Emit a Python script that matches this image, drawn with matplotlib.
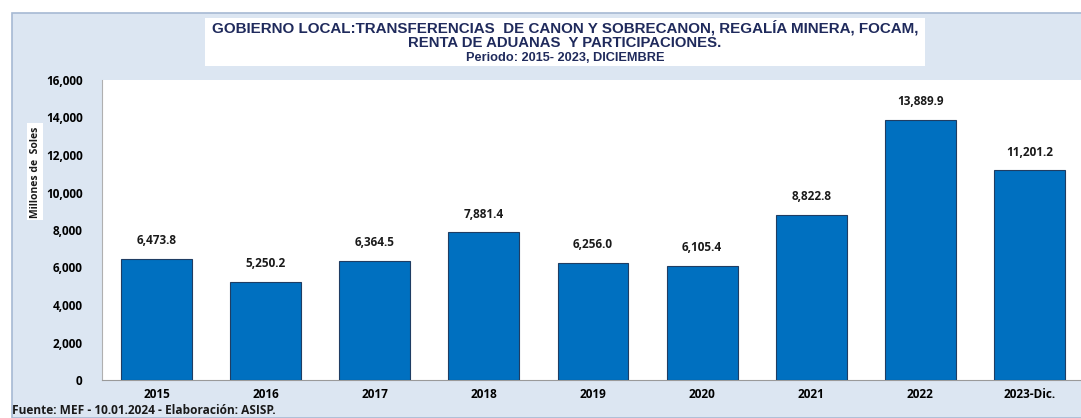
import matplotlib.pyplot as plt
from matplotlib.patches import Rectangle
import numpy as np

years = ['2015', '2016', '2017', '2018', '2019', '2020', '2021', '2022', '2023-Dic.']
values = [6473.8, 5250.2, 6364.5, 7881.4, 6256.0, 6105.4, 8822.8, 13889.9, 11201.2]
y_ticks = [0, 2000, 4000, 6000, 8000, 10000, 12000, 14000, 16000]

title_lines = [
    'GOBIERNO LOCAL:TRANSFERENCIAS  DE CANON Y SOBRECANON, REGALÍA MINERA, FOCAM,',
    'RENTA DE ADUANAS  Y PARTICIPACIONES.',
    'Periodo: 2015- 2023, DICIEMBRE',
]
source = 'Fuente: MEF - 10.01.2024 - Elaboración: ASISP.'

W, H = 1081, 418
fig = plt.figure(figsize=(W / 100, H / 100), dpi=100)
fig.patch.set_facecolor('white')

# light blue frame behind the chart
fig.patches.append(Rectangle((12 / W, 0), 1, 1 - 13 / H, transform=fig.transFigure,
                             facecolor='#dce6f2', edgecolor='#a6b9d3', linewidth=1.2, zorder=-2))

ax = fig.add_axes([102 / W, 1 - 380 / H, (1084 - 102) / W, 300 / H])
ax.set_zorder(2)
ax.set_facecolor('white')

x = np.arange(len(years))
ax.bar(x, values, width=0.65, color='#0070c0', edgecolor='#1f3d63', linewidth=0.8, zorder=3)

for xi, v in zip(x, values):
    ax.text(xi, v + 600, f'{v:,.1f}', ha='center', va='bottom', fontsize=8.5,
            fontweight='bold', family='Open Sans', color='#1a1a1a')

ax.set_xlim(-0.5, len(years) - 0.5)
ax.set_ylim(0, 16000)
ax.set_yticks(y_ticks)
ax.set_yticklabels([f'{t:,}' for t in y_ticks], fontsize=8.5, fontweight='bold', family='Open Sans')
ax.set_xticks(x)
ax.set_xticklabels(years, fontsize=8.5, fontweight='bold', family='Open Sans')
ax.tick_params(length=0, pad=14, axis='y')
ax.tick_params(length=0, pad=6, axis='x')

for s in ['top', 'right']:
    ax.spines[s].set_visible(False)
ax.spines['left'].set_color('#b0b0b0')
ax.spines['bottom'].set_color('#9a9a9a')

# title box
fig.patches.append(Rectangle((205 / W, 1 - 66 / H), 720 / W, 48 / H, transform=fig.transFigure,
                             facecolor='white', edgecolor='none', zorder=-1))
cx = 565 / W
tfont = 'Liberation Sans'
fig.text(cx, 1 - 28 / H, title_lines[0], ha='center', va='center', fontsize=10.9,
         fontweight='bold', family=tfont, color='#1f2a5c')
fig.text(cx, 1 - 43 / H, title_lines[1], ha='center', va='center', fontsize=10.7,
         fontweight='bold', family=tfont, color='#1f2a5c')
fig.text(cx, 1 - 58 / H, title_lines[2], ha='center', va='center', fontsize=9.2,
         fontweight='bold', family=tfont, color='#1f2a5c')

fig.text(35 / W, 1 - 172 / H, 'Millones de  Soles', rotation=90, ha='center', va='center',
         fontsize=7.5, fontweight='bold', family='Open Sans', color='#1a1a1a',
         bbox=dict(facecolor='white', edgecolor='none', pad=2))

fig.text(12 / W, 1 - 411 / H, source, ha='left', va='center', fontsize=8.6,
         fontweight='bold', family='Open Sans', color='#1a1a1a')

fig.savefig('out.png', dpi=100)
